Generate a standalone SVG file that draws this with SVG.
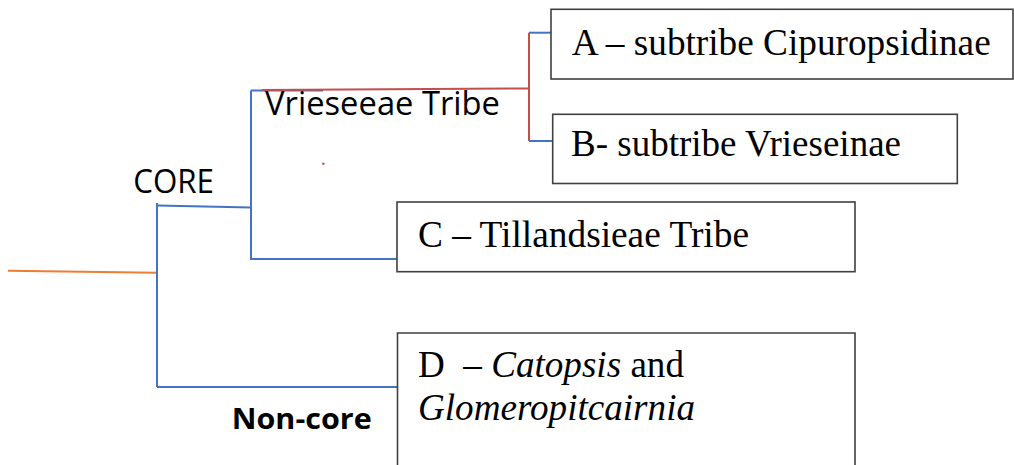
<svg xmlns="http://www.w3.org/2000/svg" width="1014" height="465" viewBox="0 0 1014 465">
  <style>
    .box { fill: #ffffff; stroke: #404040; stroke-width: 1.6; }
    .blue { stroke: #4472C4; stroke-width: 2; fill: none; }
    .red { stroke: #C0504D; stroke-width: 2; fill: none; }
    .orange { stroke: #ED7D31; stroke-width: 2; fill: none; }
    .serif { font-family: "Liberation Serif", "Times New Roman", serif; font-size: 37px; fill: #000; }
    .sans { font-family: "Open Sans", "Liberation Sans", sans-serif; font-size: 32px; fill: #000; }
    .bold { font-family: "Open Sans", "Liberation Sans", sans-serif; font-size: 29px; font-weight: bold; fill: #000; }
  </style>
  <rect width="1014" height="465" fill="#ffffff"/>

  <g id="connectors">
    <path class="orange" d="M8,270.7 L157,272.7"/>
    <path class="blue" d="M157,203 V387"/>
    <path class="blue" d="M157,205.5 L251,207.5"/>
    <path class="blue" d="M251,90.5 V259 H397"/>
    <path class="blue" d="M157,387 H397"/>
    <path class="blue" d="M251,90.5 H323"/>
    <path class="red" d="M262,90 L529,88.5"/>
    <path class="red" d="M529,32.7 V141"/>
    <path class="blue" d="M529,32.7 H553"/>
    <path class="blue" d="M529,141 H552"/>
    <circle cx="323.3" cy="163.7" r="1.2" fill="#C0504D"/>
  </g>

  <g id="label-core">
    <text class="sans" x="133.3" y="193.3" textLength="80.7" lengthAdjust="spacingAndGlyphs">CORE</text>
  </g>
  <g id="label-vrieseeae">
    <text class="sans" x="265" y="115" textLength="235" lengthAdjust="spacingAndGlyphs">Vrieseeae Tribe</text>
  </g>
  <g id="label-noncore">
    <text class="bold" x="231.7" y="428.8" textLength="140" lengthAdjust="spacingAndGlyphs">Non-core</text>
  </g>

  <g id="node-A">
    <rect class="box" x="551" y="9.3" width="462" height="69.7"/>
    <text class="serif" x="571.7" y="55" textLength="419" lengthAdjust="spacingAndGlyphs">A – subtribe Cipuropsidinae</text>
  </g>
  <g id="node-B">
    <rect class="box" x="552.7" y="114.3" width="404.6" height="69.2"/>
    <text class="serif" x="571" y="156" textLength="330" lengthAdjust="spacingAndGlyphs">B- subtribe Vrieseinae</text>
  </g>
  <g id="node-C">
    <rect class="box" x="397" y="202" width="458" height="69.7"/>
    <text class="serif" x="418" y="246.7" textLength="331" lengthAdjust="spacingAndGlyphs">C – Tillandsieae Tribe</text>
  </g>
  <g id="node-D">
    <path class="box" d="M397.5,466 V333 H855 V466"/>
    <text class="serif" x="418" y="376.5" textLength="266" lengthAdjust="spacingAndGlyphs" xml:space="preserve">D  – <tspan font-style="italic">Catopsis</tspan> and</text>
    <text class="serif" x="418" y="420" font-style="italic" textLength="277" lengthAdjust="spacingAndGlyphs">Glomeropitcairnia</text>
  </g>
</svg>
